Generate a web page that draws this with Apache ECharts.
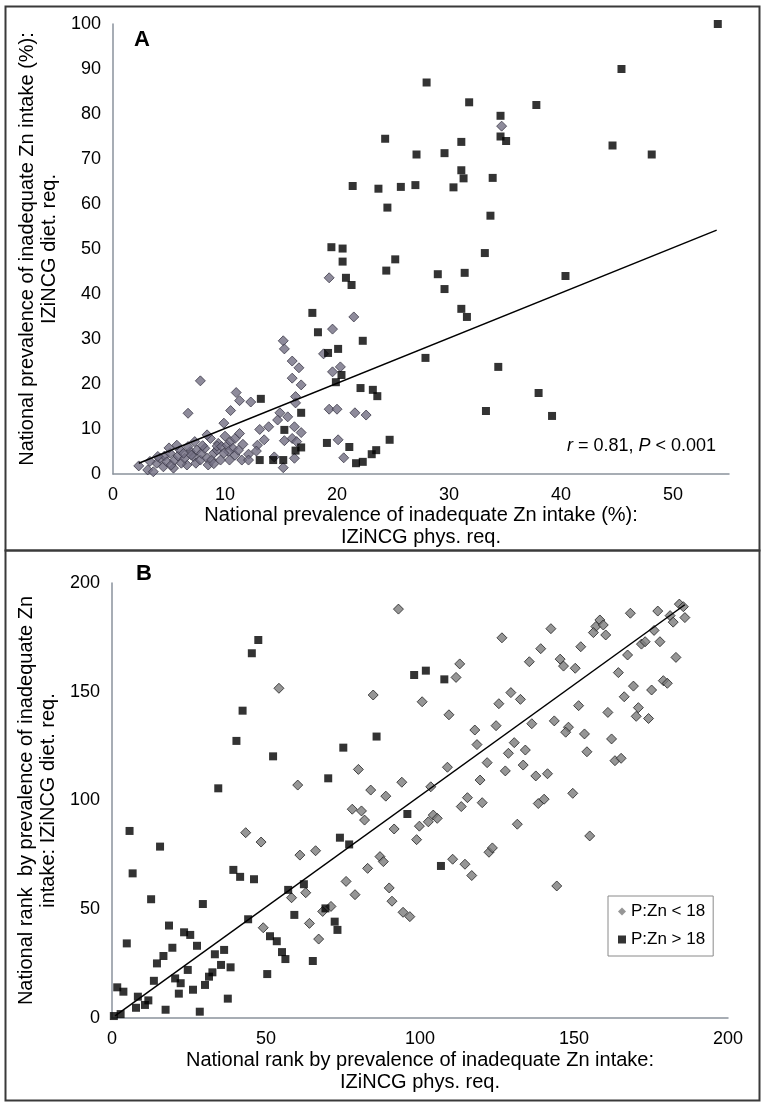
<!DOCTYPE html>
<html>
<head>
<meta charset="utf-8">
<script src="https://cdn.jsdelivr.net/npm/echarts@6/dist/echarts.min.js"></script>
<style>
  html, body { margin: 0; padding: 0; background: #fff; }
  #chart { width: 762px; height: 1102px; }
</style>
</head>
<body>
<div id="chart"></div>
<script>
// Panel A: prevalence (%), phys. req. (x) vs diet. req. (y)
const aLowPZn = [
  [2.3, 1.8], [3.1, 0.9], [3.6, 0.5], [3.9, 2.4], [4.5, 1.6], [5.4, 1.3], [6.6, 2.0],
  [4.2, 3.5], [4.6, 4.0], [5.1, 4.6], [4.8, 2.7], [5.2, 2.0], [5.5, 3.1], [5.8, 4.0],
  [6.0, 5.3], [5.7, 6.4], [6.1, 2.4], [6.4, 3.5], [6.9, 5.0], [6.7, 6.1], [7.3, 7.2],
  [7.5, 5.3], [7.2, 3.8], [7.4, 2.4], [7.8, 3.1], [7.9, 4.6], [8.2, 5.7], [8.4, 3.5],
  [8.5, 2.0], [8.8, 3.1], [9.0, 4.6], [9.3, 5.3], [8.7, 7.9], [8.4, 8.7], [9.4, 6.8],
  [3.3, 2.8], [4.0, 3.9], [5.0, 5.8], [6.3, 4.6], [7.0, 4.2], [8.0, 6.3], [9.0, 2.3],
  [10.0, 8.4], [11.6, 6.6], [12.1, 4.4],
  [9.3, 6.2], [9.7, 6.1], [10.2, 6.4], [10.5, 7.2], [10.9, 7.9], [11.3, 9.0], [10.7, 5.7],
  [10.3, 5.0], [9.9, 4.6], [10.9, 4.2], [10.4, 3.1], [9.6, 3.1], [11.2, 5.3],
  [7.8, 20.7], [6.7, 13.5], [16.0, 21.3], [16.8, 19.8], [11.0, 18.1], [11.3, 16.3],
  [12.3, 16.0], [16.3, 17.2], [16.3, 15.8], [10.5, 14.1], [14.9, 13.6], [15.6, 12.7],
  [14.7, 12.0], [9.9, 11.3], [13.1, 9.9], [13.9, 10.5], [16.2, 10.5], [16.8, 9.2],
  [13.5, 7.6], [12.9, 6.4], [15.3, 7.4], [16.0, 7.9], [16.4, 7.2], [12.8, 5.1],
  [16.2, 3.5], [11.5, 3.1], [12.1, 3.1], [14.4, 3.8], [15.2, 1.4],
  [19.3, 43.6], [21.5, 34.9], [19.6, 32.2], [18.8, 26.7], [20.3, 23.8], [19.6, 22.7],
  [16.0, 25.1], [16.6, 23.6], [15.2, 29.6], [15.3, 27.8], [19.3, 14.4], [20.0, 14.4],
  [21.6, 13.6], [22.6, 13.1], [20.1, 7.6], [20.6, 3.6], [34.7, 77.3]
]

const aHighPZn = [
  [54, 100], [45.4, 90], [28, 87], [31.8, 82.6], [37.8, 82], [34.6, 79.6], [24.3, 74.5],
  [34.6, 75], [35.1, 74], [31.1, 73.8], [44.6, 73], [29.6, 71.3], [27.1, 71], [48.1, 71],
  [31.1, 67.5], [31.3, 65.7], [33.9, 65.8], [21.4, 64], [23.7, 63.4], [25.7, 63.8],
  [27, 64.2], [30.4, 63.7], [24.5, 59.2], [33.7, 57.4], [19.5, 50.4], [20.5, 50.1],
  [33.2, 49.1], [20.5, 47.2], [25.2, 47.7], [24.4, 45.2], [29, 44.4], [31.4, 44.7],
  [40.4, 44], [20.8, 43.6], [21.3, 42], [29.6, 41.1], [31.1, 36.7], [31.6, 34.9],
  [17.8, 35.8], [18.3, 31.5], [22.3, 29.6], [19.2, 26.9], [20.1, 27.8], [27.9, 25.8],
  [34.4, 23.8], [20.4, 22], [19.9, 20.4], [22.1, 19.1], [23.2, 18.7], [23.6, 17.3],
  [38, 18], [13.2, 16.7], [16.8, 13.6], [33.3, 14], [39.2, 12.9], [15.3, 9.8],
  [19.1, 6.9], [24.7, 7.6], [21.1, 6], [16.3, 5.2], [16.8, 5.9], [23.5, 5.3],
  [23.1, 4.4], [21.7, 2.4], [22.3, 2.7], [13.1, 3.1], [14.3, 3.1], [15.2, 3.1]
]

const aFitLine = [[2.3, 2.4], [53.9, 54.2]]

// Panel B: national rank
const bLowPZn = [
  [93.0, 188.0], [54.2, 151.6], [84.8, 148.5], [100.7, 145.4], [80.0, 114.3], [60.3, 107.1],
  [94.1, 108.4], [84.0, 104.8], [103.5, 106.3],
  [184.2, 190.3], [185.5, 189.1], [177.2, 187.1], [168.3, 186.1], [181.2, 185.0], [182.2, 182.0],
  [186.0, 184.1], [158.4, 183.0], [157.1, 180.0], [159.5, 180.7], [156.3, 177.2], [160.3, 176.1],
  [142.5, 179.0], [126.6, 174.8], [176.0, 178.2], [139.2, 169.8], [152.2, 170.7], [171.9, 171.9],
  [173.1, 173.0], [177.9, 173.0], [167.4, 166.9], [183.1, 165.8], [145.5, 165.0], [146.6, 161.8],
  [135.5, 163.8], [150.4, 160.8], [112.9, 162.8], [111.7, 156.6], [164.4, 158.8], [169.3, 152.6],
  [179.0, 155.1], [180.3, 153.9], [175.2, 150.8], [166.3, 147.7], [129.5, 149.6], [132.6, 146.5],
  [125.6, 144.5], [151.5, 143.6], [170.9, 142.7], [109.4, 139.4], [161.0, 140.5], [170.2, 138.7],
  [174.2, 137.7], [124.7, 134.4], [136.3, 135.3], [143.6, 136.6], [148.2, 133.7], [147.3, 131.4],
  [117.8, 132.4], [153.4, 130.6], [118.5, 125.7], [130.6, 126.6], [162.2, 128.3], [128.7, 121.7],
  [134.2, 123.2], [154.2, 122.4], [121.8, 117.4], [133.5, 116.3], [163.3, 118.3], [165.3, 119.4],
  [108.9, 115.3], [127.7, 113.6], [137.6, 111.3], [141.4, 112.3], [119.5, 109.4],
  [88.9, 102.0], [78.0, 96.0], [81.0, 95.2], [82.0, 91.0], [91.6, 86.9], [99.8, 88.2],
  [98.9, 82.0], [102.7, 90.2], [43.4, 85.2], [48.4, 80.9], [61.0, 74.9], [66.1, 76.9],
  [83.0, 68.8], [87.0, 74.2], [88.1, 71.9], [76.0, 62.8], [78.9, 56.7], [90.0, 59.8],
  [90.9, 53.7], [94.5, 48.6], [96.7, 46.6], [58.3, 55.3], [62.9, 57.6], [64.1, 43.5],
  [68.4, 49.0], [71.1, 51.3], [67.1, 36.3], [49.1, 41.5],
  [149.6, 103.3], [115.4, 101.3], [113.4, 97.2], [120.2, 99.0], [104.3, 93.3], [105.6, 91.8],
  [138.4, 98.6], [140.3, 100.6], [131.6, 89.1], [155.1, 83.7], [122.4, 76.2], [123.5, 78.2],
  [110.6, 73.0], [114.6, 70.7], [116.8, 65.5], [144.4, 60.7]
]

const bHighPZn = [
  [47.5, 173.8], [45.4, 167.7], [98.1, 157.7], [101.9, 159.7], [42.4, 141.3], [40.4, 127.4],
  [85.9, 129.4], [75.1, 124.3], [52.3, 120.3], [70.2, 110.2], [34.5, 105.6], [107.9, 155.7],
  [95.9, 93.8], [5.7, 86.0], [15.6, 78.8], [74.0, 82.9], [77.0, 79.8], [6.7, 66.5],
  [39.4, 68.1], [41.6, 64.9], [46.1, 63.8], [12.7, 54.6], [29.5, 52.4], [57.2, 58.9],
  [62.3, 61.5], [59.2, 47.4], [44.2, 45.4], [69.3, 50.4], [72.3, 44.3], [73.2, 40.5],
  [65.2, 26.2], [51.3, 37.6], [53.5, 35.3], [55.2, 30.3], [56.3, 27.1], [50.4, 20.2],
  [18.5, 42.5], [23.4, 39.4], [25.4, 38.2], [4.8, 34.3], [19.6, 32.3], [27.6, 33.2],
  [14.6, 25.1], [16.7, 28.5], [33.4, 29.3], [36.4, 31.3], [35.4, 24.4], [38.5, 23.3],
  [24.6, 22.1], [32.6, 21.0], [31.5, 19.0], [13.6, 17.1], [20.5, 18.2], [22.3, 16.0],
  [30.2, 15.2], [26.3, 13.0], [21.7, 11.2], [1.7, 14.1], [3.7, 12.1], [8.4, 9.8],
  [11.8, 8.1], [10.7, 6.0], [7.8, 4.7], [37.6, 8.9], [17.4, 3.8], [28.5, 2.9],
  [0.6, 0.9], [2.8, 1.8], [106.8, 69.9]
]

const bFitLine = [[1, 1], [186, 190]]

const legendNames = ['P:Zn < 18', 'P:Zn > 18']

const FONT = '"Liberation Sans", Arial, sans-serif'
const axisGray = '#8a929c'

const chart = echarts.init(document.getElementById('chart'))

// 坐标轴公共样式
const baseAxis = {
  type: 'value',
  axisLine: { show: true, lineStyle: { color: axisGray, width: 1.5 } },
  axisTick: { show: false },
  splitLine: { show: false },
  axisLabel: { fontSize: 18, color: '#000', fontFamily: FONT },
  nameLocation: 'middle',
  nameTextStyle: { fontSize: 20, color: '#000', fontFamily: FONT, lineHeight: 22 }
}

const option = {
  animation: false,
  backgroundColor: '#fff',
  grid: [
    { left: 113, top: 24, width: 616, height: 450 },
    { left: 112, top: 583, width: 616, height: 435 }
  ],
  xAxis: [
    {
      ...baseAxis,
      gridIndex: 0,
      min: 0, max: 55, interval: 10,
      axisLabel: { ...baseAxis.axisLabel, margin: 12, formatter: v => (v % 10 === 0 ? v : '') },
      name: 'National prevalence of inadequate Zn intake (%):\nIZiNCG phys. req.',
      nameGap: 27
    },
    {
      ...baseAxis,
      gridIndex: 1,
      min: 0, max: 200, interval: 50,
      axisLabel: { ...baseAxis.axisLabel, margin: 12 },
      name: 'National rank by prevalence of inadequate Zn intake:\nIZiNCG phys. req.',
      nameGap: 31
    }
  ],
  yAxis: [
    {
      ...baseAxis,
      gridIndex: 0,
      min: 0, max: 100, interval: 10,
      axisLabel: { ...baseAxis.axisLabel, margin: 12 },
      name: 'National prevalence of inadequate Zn intake (%):\nIZiNCG diet. req.',
      nameRotate: 90,
      nameGap: 52
    },
    {
      ...baseAxis,
      gridIndex: 1,
      min: 0, max: 200, interval: 50,
      axisLabel: { ...baseAxis.axisLabel, margin: 12 },
      name: 'National rank  by prevalence of inadequate Zn\nintake: IZiNCG diet. req.',
      nameRotate: 90,
      nameGap: 52
    }
  ],
  legend: {
    data: [
      { name: legendNames[0], icon: 'diamond', itemStyle: { borderWidth: 0 } },
      { name: legendNames[1], icon: 'rect' }
    ],
    orient: 'vertical',
    left: 608,
    top: 896,
    itemWidth: 8,
    itemHeight: 8,
    itemGap: 11,
    padding: [7, 8, 8, 10],
    borderColor: '#8a8a8a',
    borderWidth: 1,
    textStyle: { fontSize: 17, color: '#000', fontFamily: FONT }
  },
  series: [
    {
      name: 'A low',
      type: 'scatter',
      xAxisIndex: 0, yAxisIndex: 0,
      symbol: 'diamond',
      symbolSize: 10,
      itemStyle: { color: '#726e82', borderColor: '#3c3a48', borderWidth: 1 },
      data: aLowPZn
    },
    {
      name: 'A high',
      type: 'scatter',
      xAxisIndex: 0, yAxisIndex: 0,
      symbol: 'rect',
      symbolSize: 8,
      itemStyle: { color: '#000' },
      data: aHighPZn
    },
    {
      name: 'A fit',
      type: 'line',
      xAxisIndex: 0, yAxisIndex: 0,
      symbol: 'none',
      lineStyle: { color: '#000', width: 1.5 },
      data: aFitLine
    },
    {
      name: legendNames[0],
      type: 'scatter',
      xAxisIndex: 1, yAxisIndex: 1,
      symbol: 'diamond',
      symbolSize: 10,
      itemStyle: { color: '#7c7c7c', borderColor: '#222', borderWidth: 1 },
      data: bLowPZn
    },
    {
      name: legendNames[1],
      type: 'scatter',
      xAxisIndex: 1, yAxisIndex: 1,
      symbol: 'rect',
      symbolSize: 8,
      itemStyle: { color: '#000' },
      data: bHighPZn
    },
    {
      name: 'B fit',
      type: 'line',
      xAxisIndex: 1, yAxisIndex: 1,
      symbol: 'none',
      lineStyle: { color: '#000', width: 1.5 },
      data: bFitLine
    }
  ],
  graphic: [
    // 面板边框
    { type: 'rect', left: 3, top: 4, shape: { width: 754, height: 544 }, style: { fill: 'none', stroke: '#3a3a3a', lineWidth: 2 }, silent: true },
    { type: 'rect', left: 3, top: 548, shape: { width: 754, height: 550 }, style: { fill: 'none', stroke: '#3a3a3a', lineWidth: 2 }, silent: true },
    { type: 'text', left: 134, top: 29, style: { text: 'A', font: 'bold 22px ' + FONT, fill: '#000' } },
    { type: 'text', left: 136, top: 563, style: { text: 'B', font: 'bold 22px ' + FONT, fill: '#000' } },
    {
      type: 'text', right: 46, top: 437,
      style: {
        text: '{i|r} = 0.81, {i|P} < 0.001',
        font: '18px ' + FONT,
        fill: '#000',
        rich: { i: { fontStyle: 'italic', fontSize: 18, fontFamily: FONT } }
      }
    }
  ]
}

chart.setOption(option)
</script>
</body>
</html>
